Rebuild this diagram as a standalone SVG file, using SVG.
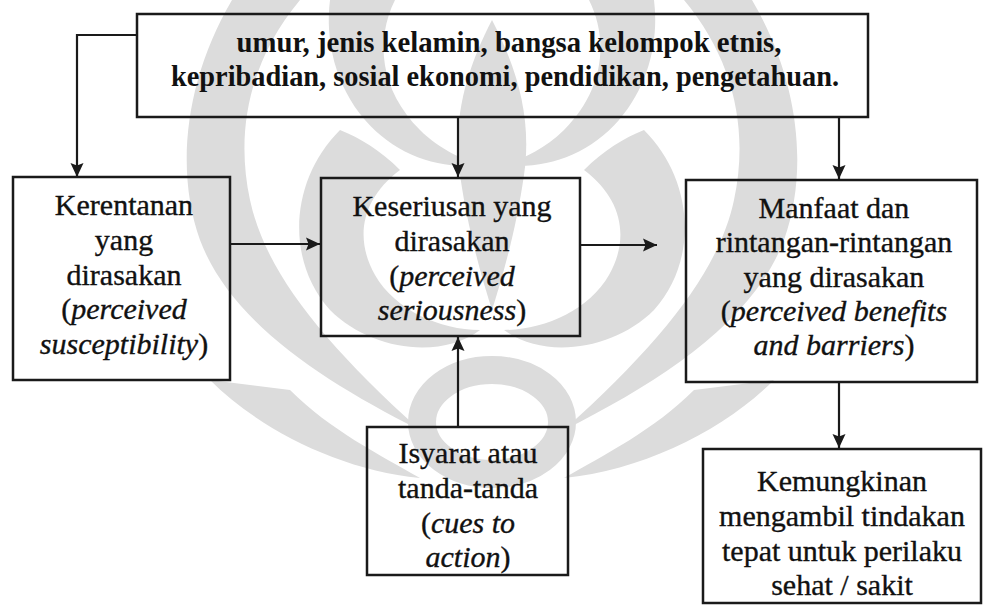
<svg xmlns="http://www.w3.org/2000/svg" width="984" height="606" viewBox="0 0 984 606">
  <style>
    .box { fill: none; stroke: #1a1a1a; stroke-width: 2.5; }
    .edge { fill: none; stroke: #1a1a1a; stroke-width: 2.2; }
    .t { font-family: "Liberation Serif", "Times New Roman", serif; font-size: 30px; fill: #111; stroke: #111; stroke-width: 0.35; text-anchor: middle; }
    .b { font-weight: bold; stroke-width: 0; }
    .i { font-style: italic; }
    .wm { fill: #dcdcdc; stroke: none; }
  </style>
  <defs>
    <marker id="arrow" markerUnits="userSpaceOnUse" markerWidth="16" markerHeight="16" viewBox="0 0 16 16" refX="15" refY="8" orient="auto">
      <path d="M1,1.5 L15,8 L1,14.5 L3.5,8 Z" fill="#1a1a1a"/>
    </marker>
    <!-- one half of the background emblem, mirrored about x = 492 -->
    <g id="emblem-half">
      <path class="wm" d="M232,0 L300,0 C250,60 235,130 250,200 C265,270 320,340 420,430 C320,380 230,320 200,240 C175,170 185,80 232,0 Z"/>
      <path class="wm" d="M340,130 C290,180 285,260 330,310 C370,350 440,360 480,330 C440,330 395,310 375,275 C355,240 360,200 400,170 C380,150 360,138 340,130 Z"/>
      <path class="wm" d="M330,0 L395,0 C375,40 380,90 420,130 C440,150 465,160 480,165 C440,170 395,155 365,120 C335,85 325,40 330,0 Z"/>
      <path class="wm" d="M210,380 C260,430 340,470 420,478 C380,455 330,430 290,390 Z"/>
    </g>
  </defs>

  <rect width="984" height="606" fill="#ffffff"/>

  <!-- background emblem -->
  <g id="emblem">
    <use href="#emblem-half"/>
    <use href="#emblem-half" transform="translate(984,0) scale(-1,1)"/>
    <path class="wm" d="M492,20 C518,70 532,120 524,175 C516,230 503,275 492,310 C481,275 468,230 460,175 C452,120 466,70 492,20 Z"/>
    <ellipse cx="492" cy="422" rx="70" ry="52" fill="none" stroke="#dcdcdc" stroke-width="28"/>
  </g>

  <!-- connectors -->
  <g id="connectors">
    <polyline class="edge" points="137,35 77,35 77,177" marker-end="url(#arrow)"/>
    <line class="edge" x1="458" y1="117" x2="458" y2="177" marker-end="url(#arrow)"/>
    <line class="edge" x1="839" y1="117" x2="839" y2="179" marker-end="url(#arrow)"/>
    <line class="edge" x1="230" y1="244" x2="320" y2="244" marker-end="url(#arrow)"/>
    <line class="edge" x1="580" y1="245" x2="657" y2="245" marker-end="url(#arrow)"/>
    <line class="edge" x1="458" y1="426" x2="458" y2="337" marker-end="url(#arrow)"/>
    <line class="edge" x1="839" y1="382" x2="839" y2="448" marker-end="url(#arrow)"/>
  </g>

  <!-- factors -->
  <g id="factors">
    <rect class="box" x="137" y="14" width="731" height="103"/>
    <text class="t b" x="509" y="52" textLength="545" lengthAdjust="spacingAndGlyphs">umur, jenis kelamin, bangsa kelompok etnis,</text>
    <text class="t b" x="505" y="86" textLength="668" lengthAdjust="spacingAndGlyphs">kepribadian, sosial ekonomi, pendidikan, pengetahuan.</text>
  </g>

  <!-- susceptibility -->
  <g id="susceptibility">
    <rect class="box" x="13" y="177" width="217" height="203"/>
    <text class="t" x="124" y="215">Kerentanan</text>
    <text class="t" x="124" y="250">yang</text>
    <text class="t" x="124" y="285">dirasakan</text>
    <text class="t" x="124" y="319">(<tspan class="i">perceived</tspan></text>
    <text class="t" x="124" y="354"><tspan class="i">susceptibility</tspan>)</text>
  </g>

  <!-- seriousness -->
  <g id="seriousness">
    <rect class="box" x="321" y="178" width="259" height="158"/>
    <text class="t" x="452" y="216">Keseriusan yang</text>
    <text class="t" x="452" y="251">dirasakan</text>
    <text class="t" x="452" y="286">(<tspan class="i">perceived</tspan></text>
    <text class="t" x="452" y="320"><tspan class="i">seriousness</tspan>)</text>
  </g>

  <!-- benefits and barriers -->
  <g id="benefits">
    <rect class="box" x="686" y="180" width="291" height="202"/>
    <text class="t" x="834" y="218">Manfaat dan</text>
    <text class="t" x="834" y="252">rintangan-rintangan</text>
    <text class="t" x="834" y="287">yang dirasakan</text>
    <text class="t" x="834" y="321">(<tspan class="i">perceived benefits</tspan></text>
    <text class="t" x="834" y="355"><tspan class="i">and barriers</tspan>)</text>
  </g>

  <!-- cues to action -->
  <g id="cues">
    <rect class="box" x="367" y="427" width="201" height="148"/>
    <text class="t" x="468" y="463">Isyarat atau</text>
    <text class="t" x="468" y="498">tanda-tanda</text>
    <text class="t" x="468" y="533">(<tspan class="i">cues to</tspan></text>
    <text class="t" x="468" y="567"><tspan class="i">action</tspan>)</text>
  </g>

  <!-- likelihood of action -->
  <g id="likelihood">
    <rect class="box" x="703" y="449" width="278" height="154"/>
    <text class="t" x="842" y="491">Kemungkinan</text>
    <text class="t" x="842" y="526">mengambil tindakan</text>
    <text class="t" x="842" y="561">tepat untuk perilaku</text>
    <text class="t" x="842" y="595">sehat / sakit</text>
  </g>
</svg>
